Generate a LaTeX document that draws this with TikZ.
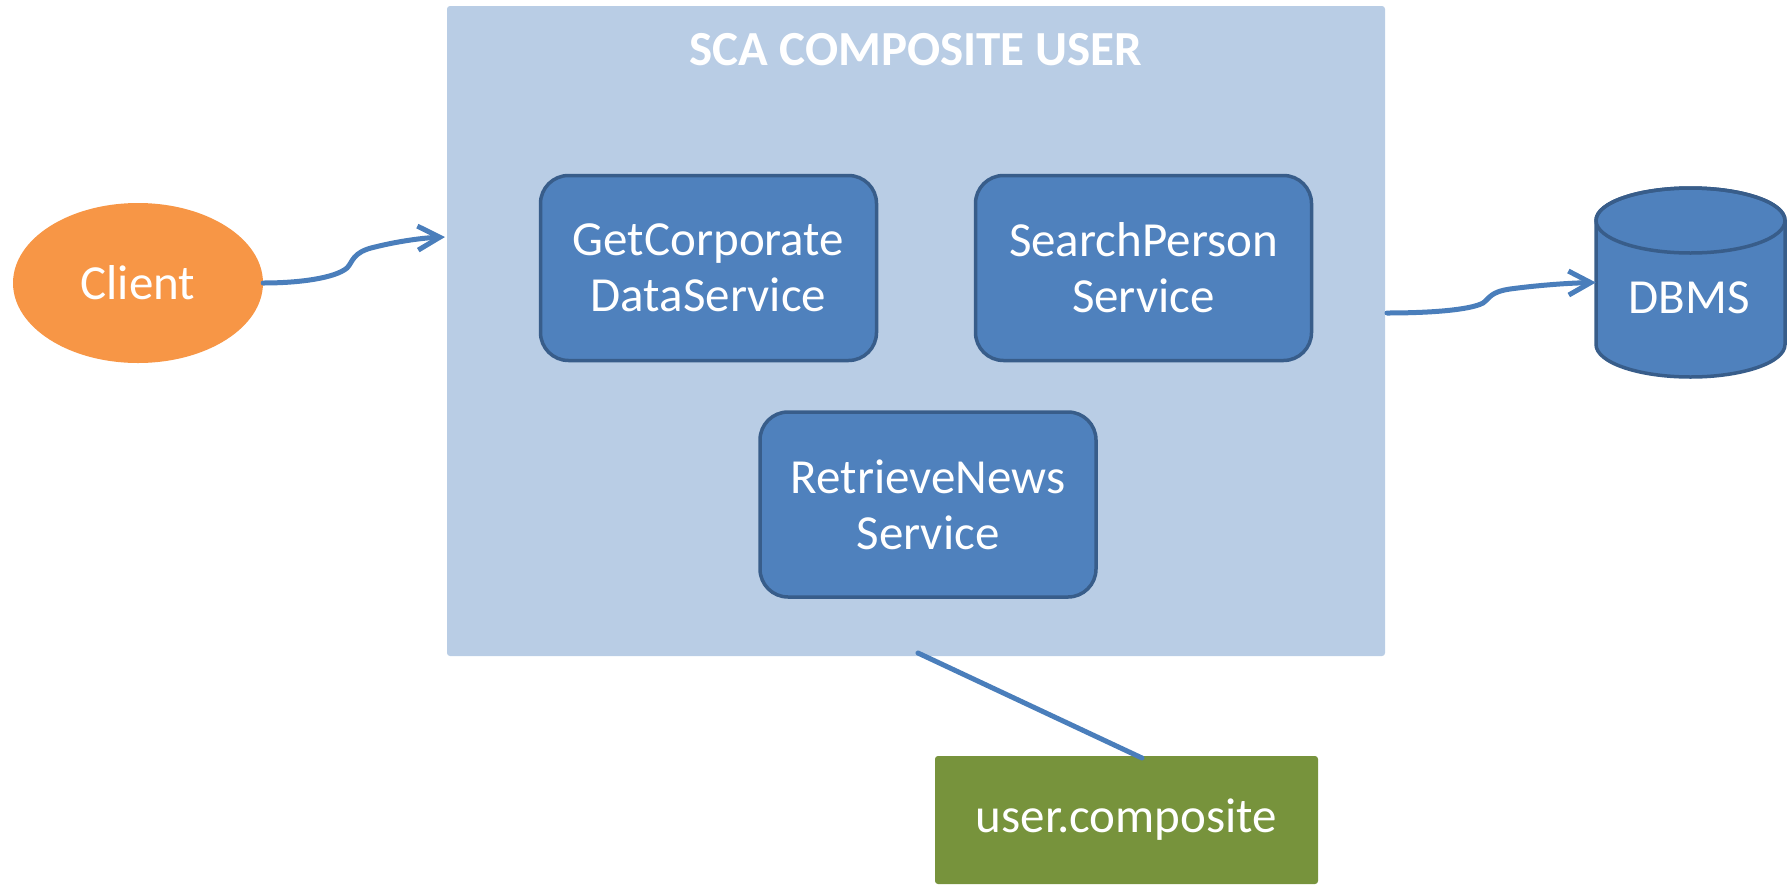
\documentclass[tikz,border=0pt]{standalone}
\usepackage{fontspec}
\setmainfont{Carlito}
\usetikzlibrary{shapes.geometric,arrows.meta}
\definecolor{lightbox}{HTML}{B9CDE5}
\definecolor{svcfill}{HTML}{4F81BD}
\definecolor{svcborder}{HTML}{385D8A}
\definecolor{clientfill}{HTML}{F79646}
\definecolor{greenfill}{HTML}{77933C}
\definecolor{conn}{HTML}{4A7EBB}
\tikzset{
  txt/.style={text=white, font=\fontsize{49}{56}\selectfont, align=center},
  svc/.style={txt, fill=svcfill, draw=svcborder, line width=3.5pt, rounded corners=28pt,
              minimum width=336pt, minimum height=185pt, inner sep=0pt},
  connector/.style={draw=conn, line width=5pt, line cap=round},
  arr/.style={-{Straight Barb[length=22pt, width=24pt, line width=5pt]}},
}
\begin{document}
\begin{tikzpicture}[x=1pt, y=-1pt]
\useasboundingbox (0,0) rectangle (1791,884);
% composite container
\node[fill=lightbox, rounded corners=3pt, minimum width=938pt, minimum height=650pt, inner sep=0pt] (box) at (916,331) {};
\node[txt, font=\fontsize{49}{56}\selectfont\bfseries] (title) at (916,50) {SCA COMPOSITE USER};
% services
\node[svc] (gc) at (708.5,268) {GetCorporate\\DataService};
\node[svc] (sp) at (1143.5,268) {SearchPerson\\Service};
\node[svc] (rn) at (928,504.5) {RetrieveNews\\Service};
% client
\node[txt, ellipse, fill=clientfill, minimum width=250pt, minimum height=160pt, inner sep=0pt] (client) at (138,283) {Client};
% DBMS cylinder
\node[minimum width=189pt, minimum height=189pt, inner sep=0pt] (db) at (1690.5,282.5) {};
\filldraw[fill=svcfill, draw=svcborder, line width=3.5pt]
  (1596,220.5) -- (1596,344.5) arc[start angle=180, end angle=360, x radius=94.5pt, y radius=32.5pt]
  -- (1785,220.5) arc[start angle=0, end angle=180, x radius=94.5pt, y radius=32.5pt] -- cycle;
\draw[svcborder, line width=3.5pt] (1690.5,220.5) ellipse [x radius=94.5pt, y radius=32.5pt];
\node[txt] (dbl) at (1689,298) {DBMS};
% user.composite
\node[txt, fill=greenfill, rounded corners=3pt, minimum width=383pt, minimum height=128pt, inner sep=0pt] (uc) at (1126.5,820) {user.composite};
% connector end points
\coordinate (cin) at (445,237);
\coordinate (cout) at (1387,313);
\coordinate (cbot) at (918,653);
\coordinate (ctop) at (1142,758);
% connectors
\draw[connector, arr] (client.east) .. controls (300,283) and (335,278) .. (347,268)
  .. controls (353,262) and (352,252) .. (375,247)
  .. controls (395,242) and (420,238) .. (cin);
\draw[connector, arr] (cout) .. controls (1430,313) and (1470,310) .. (1483,303)
  .. controls (1490,298) and (1490,292) .. (1510,289)
  .. controls (1540,285) and (1570,283) .. (db.west);
\draw[connector] (cbot) -- (ctop);
\end{tikzpicture}
\end{document}
